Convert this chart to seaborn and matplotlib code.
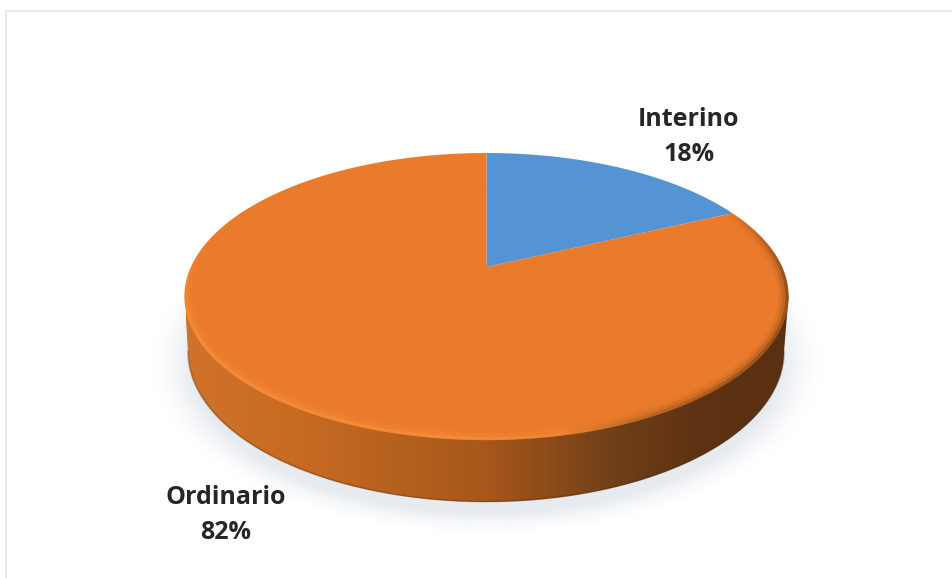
import numpy as np
import matplotlib
matplotlib.use("Agg")
import matplotlib.pyplot as plt
import seaborn as sns
from matplotlib.collections import LineCollection
from matplotlib.colors import LinearSegmentedColormap, to_rgb
from matplotlib.patches import PathPatch
from matplotlib.path import Path
from matplotlib.transforms import Affine2D, Transform

categories = ["Interino", "Ordinario"]
shares = [18, 82]
slice_colors = ["#5494D4", "#EB7B2C"]

sns.set_theme(style="white")
plt.rcParams["font.family"] = ["Open Sans", "DejaVu Sans"]


class DiskPerspective(Transform):
    """Projective map of the unit disk onto itself: a tilted pie seen in perspective."""
    input_dims = 2
    output_dims = 2
    is_separable = False
    has_inverse = False

    def __init__(self, k):
        super().__init__()
        self.k = k

    def transform_non_affine(self, values):
        values = np.asarray(values, float)
        x, y = values[:, 0], values[:, 1]
        d = 1 + self.k * y
        return np.column_stack([x * np.sqrt(1 - self.k ** 2) / d, (y + self.k) / d])

    def transform_path_non_affine(self, path):
        pieces = [curve(np.linspace(0, 1, 24)) for curve, _ in path.iter_bezier()]
        return Path(self.transform_non_affine(np.vstack(pieces)))


W, H = 953, 578
CX, CY, RX, RY = 486.5, 296.5, 302.0, 143.5          # top face
BX, BY, BRX, BRY = 486.0, 352.0, 298.0, 150.0        # bottom outline of the side

fig = plt.figure(figsize=(W / 100, H / 100), dpi=100, facecolor="white")
ax = fig.add_axes([0, 0, 1, 1])

# soft shadow under the disc
yy, xx = np.mgrid[0:H, 0:W]
dist = np.hypot((xx - 486) / 314, (yy - 362) / 160)
soft = np.clip((1.08 - dist) / 0.14, 0, 1) ** 1.6
shadow = np.zeros((H, W, 4))
shadow[..., :3] = to_rgb("#BCC8D4")
shadow[..., 3] = 0.36 * soft
ax.imshow(shadow, extent=(0, W, H, 0), zorder=0, interpolation="bilinear")

# side wall with a horizontal gradient
side_cmap = LinearSegmentedColormap.from_list(
    "side",
    [(0.0, "#D0722A"), (0.2, "#C66A22"), (0.5, "#A6571B"),
     (0.72, "#6E3E18"), (0.85, "#5E3212"), (1.0, "#5A3011")],
)
grad = np.linspace(0, 1, 600).reshape(1, -1)
side_im = ax.imshow(grad, cmap=side_cmap, extent=(186, 790, 510, 280),
                    zorder=1, aspect="auto", interpolation="bilinear")
t = np.linspace(np.pi, 0, 200)
lower = np.column_stack([BX + BRX * np.cos(t), BY + BRY * np.sin(t)])
t2 = np.linspace(0, np.pi, 100)
upper = np.column_stack([CX + RX * np.cos(t2), CY - 20 * np.sin(t2)])
outline = Path(np.vstack([[CX - RX, CY], lower, [CX + RX, CY], upper, [CX - RX, CY]]), closed=False)
clip = PathPatch(outline, transform=ax.transData, fc="none", ec="none")
ax.add_patch(clip)
side_im.set_clip_path(clip)

# darker lower edge of the wall
ax.plot(lower[:, 0], lower[:, 1] - 0.5, color="#4A2A10", lw=1.3, alpha=0.3, zorder=2)

# top face
wedges, _ = ax.pie(shares, colors=slice_colors, startangle=90, counterclock=False,
                   wedgeprops={"linewidth": 0})
ax.set_aspect("auto")
ax.set_xlim(0, W)
ax.set_ylim(H, 0)
ax.set_axis_off()
to_pixels = DiskPerspective((CY - 267) / RY) + Affine2D().scale(RX, -RY).translate(CX, CY) + ax.transData
for w in wedges:
    w.set_transform(to_pixels)
    w.set_zorder(3)

# soft bevel along the front rim, fading out at both ends
a = np.linspace(np.radians(-38), np.radians(200), 600)
rim_cmap = LinearSegmentedColormap.from_list(
    "rim",
    [(0.0, "#FA9440"), (0.45, "#F99440"), (0.62, "#F08C3A"),
     (0.76, "#A9601F"), (1.0, "#6E3D16")],
)
fade = np.clip(np.minimum(a - a[0], a[-1] - a) / np.radians(28), 0, 1)
for inset, lw, alpha in [(5.0, 7.0, 0.10), (3.5, 4.5, 0.22), (1.5, 2.5, 0.55)]:
    pts = np.column_stack([CX + (RX - inset) * np.cos(a), CY + (RY - inset) * np.sin(a)])
    segs = np.stack([pts[:-1], pts[1:]], axis=1)
    colors = rim_cmap((segs[:, 0, 0] - (CX - RX)) / (2 * RX))
    colors[:, 3] = alpha * fade[:-1]
    ax.add_collection(LineCollection(segs, colors=colors, linewidths=lw, zorder=4))

# labels
label_pos = [(689, 137), (226, 515)]
for name, share, (lx, ly) in zip(categories, shares, label_pos):
    ax.text(lx, ly, f"{name}\n{share}%", ha="center", va="center", fontsize=18,
            fontweight="bold", color="#262626", linespacing=1.55, zorder=5)

# frame of the chart area (top and left only are visible)
ax.plot([6.5, 6.5, W], [H, 10.5, 10.5], color="#E4E4E4", lw=1.2, zorder=5, clip_on=False)

fig.savefig("out.png", dpi=100, facecolor="white")
